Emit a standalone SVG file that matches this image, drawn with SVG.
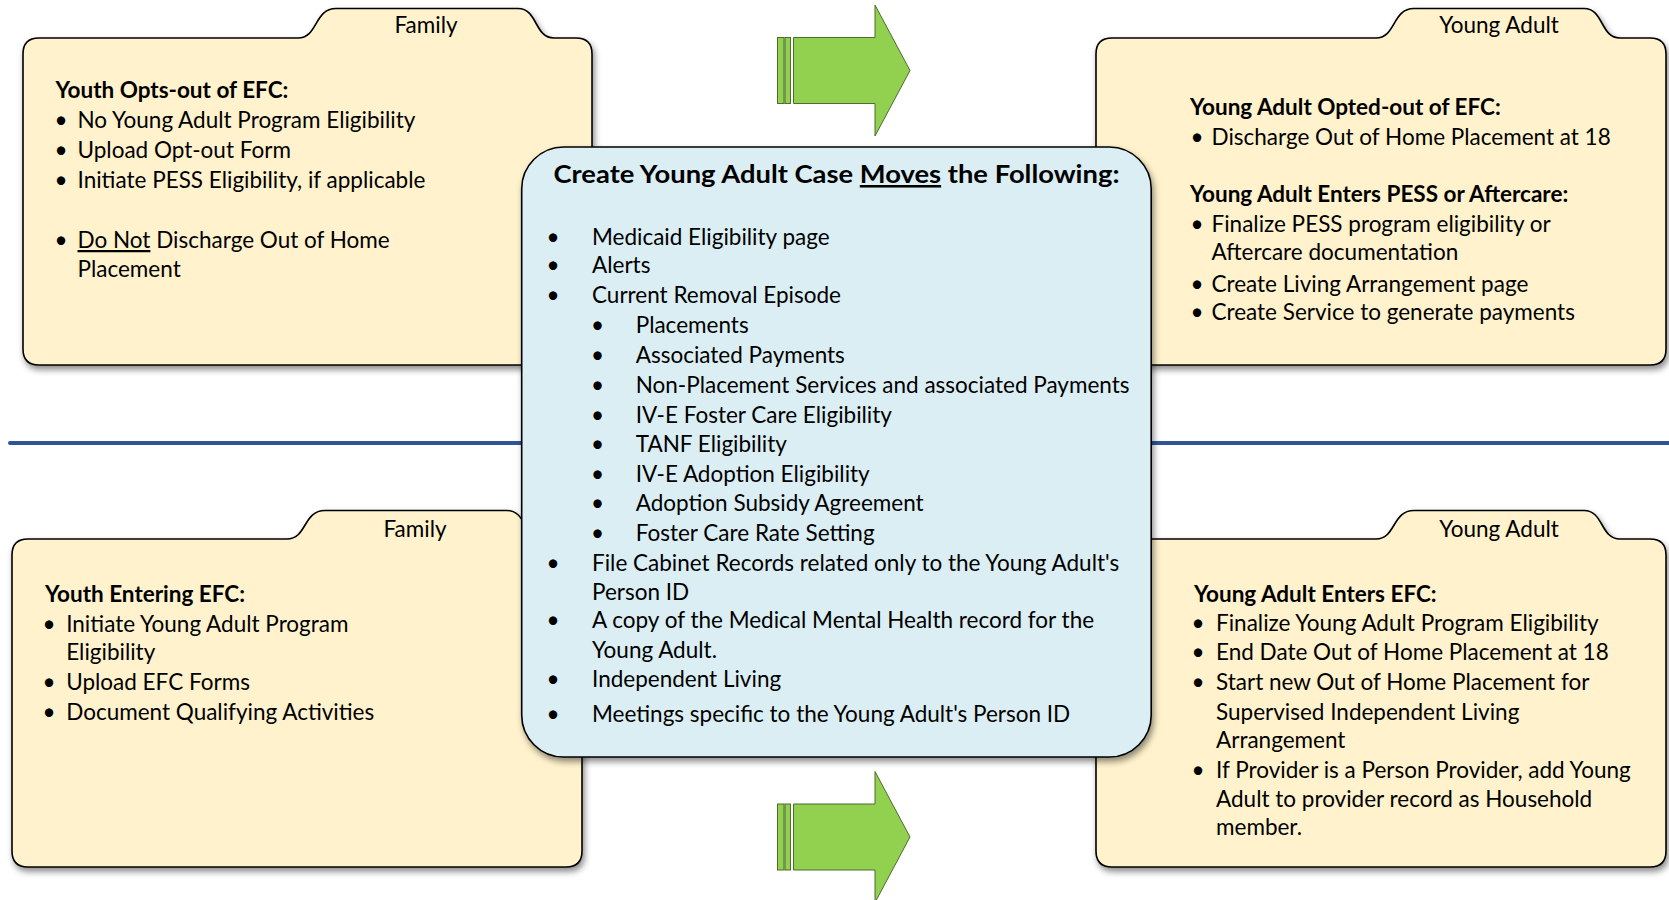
<svg xmlns="http://www.w3.org/2000/svg" width="1669" height="900" viewBox="0 0 1669 900">
<style>
text{font-family:Lato,"Open Sans","Liberation Sans",sans-serif;font-size:22.5px;fill:#000}
.b{font-weight:bold}
.t{font-size:25.5px;font-weight:bold}
.c{text-anchor:middle}
.folder{fill:#FFF2CC;stroke:#000;stroke-width:1.6}
.center{fill:#DAEEF3;stroke:#000;stroke-width:1.6}
.arrow{fill:#92D050;stroke:#4F6B2E;stroke-width:1}
.u{text-decoration:underline}
</style>
<defs>
<filter id="sh" x="-5%" y="-5%" width="115%" height="120%">
<feDropShadow dx="2" dy="4" stdDeviation="3" flood-color="#000" flood-opacity="0.45"/>
</filter>
</defs>
<g id="connectors">
<line x1="10" y1="443" x2="1669" y2="443" stroke="#2F5597" stroke-width="4" stroke-linecap="round"/>
<g id="arrow-top">
<rect class="arrow" x="777.5" y="37.5" width="6.5" height="66"/>
<rect class="arrow" x="785" y="37.5" width="5.5" height="66"/>
<polygon class="arrow" points="793.5,37.5 875,37.5 875,5 910,70.5 875,136 875,103.5 793.5,103.5"/>
</g>
<g id="arrow-bottom">
<rect class="arrow" x="777.5" y="804" width="6.5" height="66"/>
<rect class="arrow" x="785" y="804" width="5.5" height="66"/>
<polygon class="arrow" points="793.5,804 875,804 875,771.5 910,837 875,902.5 875,870 793.5,870"/>
</g>
</g>
<g id="folder-tl">
<path class="folder" filter="url(#sh)" d="M23,54 Q23,38 39,38 L298,38 C318,38 314,8.5 336,8.5 L518,8.5 C538,8.5 534,38 554,38 L576,38 Q592,38 592,54 L592,349 Q592,365 576,365 L39,365 Q23,365 23,349 Z"/>
<text class="c" x="426" y="33">Family</text>
<text class="b" x="55.5" y="98">Youth Opts-out of EFC:</text>
<text class="c" x="61" y="128">•</text><text x="77.5" y="128">No Young Adult Program Eligibility</text>
<text class="c" x="61" y="158">•</text><text x="77.5" y="158">Upload Opt-out Form</text>
<text class="c" x="61" y="188">•</text><text x="77.5" y="188">Initiate PESS Eligibility, if applicable</text>
<text class="c" x="61" y="248">•</text><text x="77.5" y="248"><tspan class="u">Do Not</tspan> Discharge Out of Home</text>
<text x="77.5" y="277">Placement</text>
</g>
<g id="folder-tr">
<path class="folder" filter="url(#sh)" d="M1096,54 Q1096,38 1112,38 L1376,38 C1396,38 1392,8.5 1414,8.5 L1584,8.5 C1604,8.5 1600,38 1620,38 L1650,38 Q1666,38 1666,54 L1666,349 Q1666,365 1650,365 L1112,365 Q1096,365 1096,349 Z"/>
<text class="c" x="1499" y="33">Young Adult</text>
<text class="b" x="1190" y="115">Young Adult Opted-out of EFC:</text>
<text class="c" x="1197" y="145">•</text><text x="1211.5" y="145">Discharge Out of Home Placement at 18</text>
<text class="b" x="1190" y="201.7">Young Adult Enters PESS or Aftercare:</text>
<text class="c" x="1197" y="231.7">•</text><text x="1211.5" y="231.7">Finalize PESS program eligibility or</text>
<text x="1211.5" y="260">Aftercare documentation</text>
<text class="c" x="1197" y="291.7">•</text><text x="1211.5" y="291.7">Create Living Arrangement page</text>
<text class="c" x="1197" y="320">•</text><text x="1211.5" y="320">Create Service to generate payments</text>
</g>
<g id="folder-bl">
<path class="folder" filter="url(#sh)" d="M12,555 Q12,539 28,539 L287,539 C307,539 303,510.5 325,510.5 L507,510.5 C527,510.5 523,539 543,539 L566,539 Q582,539 582,555 L582,851 Q582,867 566,867 L28,867 Q12,867 12,851 Z"/>
<text class="c" x="415" y="536.7">Family</text>
<text class="b" x="45" y="601.7">Youth Entering EFC:</text>
<text class="c" x="49" y="631.7">•</text><text x="66.2" y="631.7">Initiate Young Adult Program</text>
<text x="66.2" y="660">Eligibility</text>
<text class="c" x="49" y="690">•</text><text x="66.2" y="690">Upload EFC Forms</text>
<text class="c" x="49" y="720">•</text><text x="66.2" y="720">Document Qualifying Activities</text>
</g>
<g id="folder-br">
<path class="folder" filter="url(#sh)" d="M1096,555 Q1096,539 1112,539 L1376,539 C1396,539 1392,510.5 1414,510.5 L1584,510.5 C1604,510.5 1600,539 1620,539 L1650,539 Q1666,539 1666,555 L1666,851 Q1666,867 1650,867 L1112,867 Q1096,867 1096,851 Z"/>
<text class="c" x="1499" y="536.7">Young Adult</text>
<text class="b" x="1194" y="601.7">Young Adult Enters EFC:</text>
<text class="c" x="1198" y="630.7">•</text><text x="1216" y="630.7">Finalize Young Adult Program Eligibility</text>
<text class="c" x="1198" y="660">•</text><text x="1216" y="660">End Date Out of Home Placement at 18</text>
<text class="c" x="1198" y="690">•</text><text x="1216" y="690">Start new Out of Home Placement for</text>
<text x="1216" y="720">Supervised Independent Living</text>
<text x="1216" y="748.3">Arrangement</text>
<text class="c" x="1198" y="778.3">•</text><text x="1216" y="778.3">If Provider is a Person Provider, add Young</text>
<text x="1216" y="806.7">Adult to provider record as Household</text>
<text x="1216" y="835">member.</text>
</g>
<g id="center">
<rect class="center" filter="url(#sh)" x="521.7" y="147" width="629.5" height="610" rx="42" ry="42"/>
<text class="t" x="553.5" y="183" textLength="566" lengthAdjust="spacingAndGlyphs">Create Young Adult Case <tspan class="u">Moves</tspan> the Following:</text>
<text class="c" x="553" y="245">•</text><text x="592" y="245">Medicaid Eligibility page</text>
<text class="c" x="553" y="273.3">•</text><text x="592" y="273.3">Alerts</text>
<text class="c" x="553" y="303.3">•</text><text x="592" y="303.3">Current Removal Episode</text>
<text class="c" x="597.6" y="333.3">•</text><text x="635.7" y="333.3">Placements</text>
<text class="c" x="597.6" y="363.3">•</text><text x="635.7" y="363.3">Associated Payments</text>
<text class="c" x="597.6" y="393.3">•</text><text x="635.7" y="393.3">Non-Placement Services and associated Payments</text>
<text class="c" x="597.6" y="423.3">•</text><text x="635.7" y="423.3">IV-E Foster Care Eligibility</text>
<text class="c" x="597.6" y="451.7">•</text><text x="635.7" y="451.7">TANF Eligibility</text>
<text class="c" x="597.6" y="481.7">•</text><text x="635.7" y="481.7">IV-E Adoption Eligibility</text>
<text class="c" x="597.6" y="510.7">•</text><text x="635.7" y="510.7">Adoption Subsidy Agreement</text>
<text class="c" x="597.6" y="540.7">•</text><text x="635.7" y="540.7">Foster Care Rate Setting</text>
<text class="c" x="553" y="570.7">•</text><text x="592" y="570.7">File Cabinet Records related only to the Young Adult's</text>
<text x="592" y="600">Person ID</text>
<text class="c" x="553" y="628.3">•</text><text x="592" y="628.3">A copy of the Medical Mental Health record for the</text>
<text x="592" y="658.3">Young Adult.</text>
<text class="c" x="553" y="686.7">•</text><text x="592" y="686.7">Independent Living</text>
<text class="c" x="553" y="721.7">•</text><text x="592" y="721.7">Meetings specific to the Young Adult's Person ID</text>
</g>
</svg>
